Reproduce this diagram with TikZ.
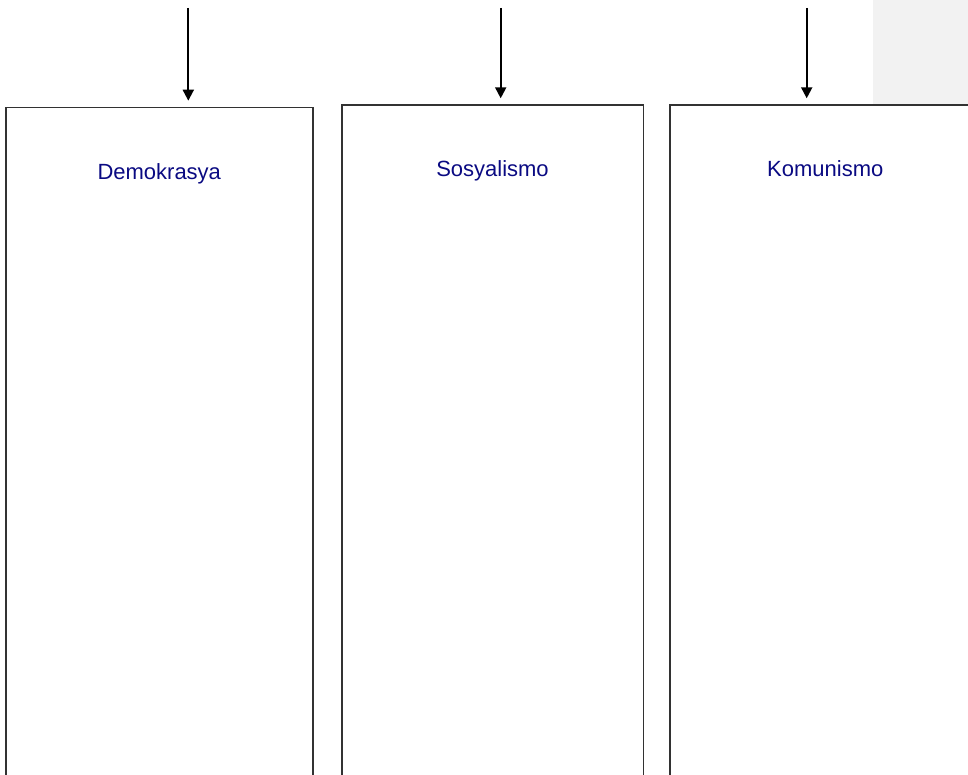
\documentclass[tikz,border=0pt]{standalone}
\usepackage{fontspec}
\setmainfont{Liberation Sans}
\usetikzlibrary{arrows.meta}
\definecolor{txtblue}{RGB}{10,10,130}
\definecolor{boxline}{RGB}{50,50,50}
\definecolor{panelgray}{RGB}{242,242,242}
\begin{document}
\begin{tikzpicture}[x=1pt,y=-1pt,
  colbox/.style={draw=boxline,line width=1.5pt,minimum width=#1,minimum height=720pt,inner sep=0pt,anchor=north west},
  title/.style={text=txtblue,font=\fontsize{22}{26}\selectfont,anchor=base,inner sep=0pt},
  arr/.style={draw=black,line width=2pt,-{Triangle[length=11pt,width=11pt]},shorten >=6pt}]
\useasboundingbox (0,0) rectangle (968,775);
\clip (0,0) rectangle (968,775);
\fill[panelgray] (873,0) rectangle (968,104.3);
\node[colbox=307pt] (b1) at (5,106.7) {};
\node[colbox=301.5pt] (b2) at (341,104.3) {};
\node[colbox=311pt] (b3) at (669,104.3) {};
\node[title] (t1) at ([yshift=-72.8pt]b1.north) {Demokrasya};
\node[title] (t2) at ([yshift=-72.4pt]b2.north) {Sosyalismo};
\node[title] (t3) at ([yshift=-72.4pt]b3.north) {Komunismo};
\coordinate (a1) at (188.3,8);
\coordinate (a2) at (500.7,8);
\coordinate (a3) at (806.7,8);
\draw[arr] (a1) -- (a1 |- b1.north);
\draw[arr] (a2) -- (a2 |- b2.north);
\draw[arr] (a3) -- (a3 |- b3.north);
\end{tikzpicture}
\end{document}
